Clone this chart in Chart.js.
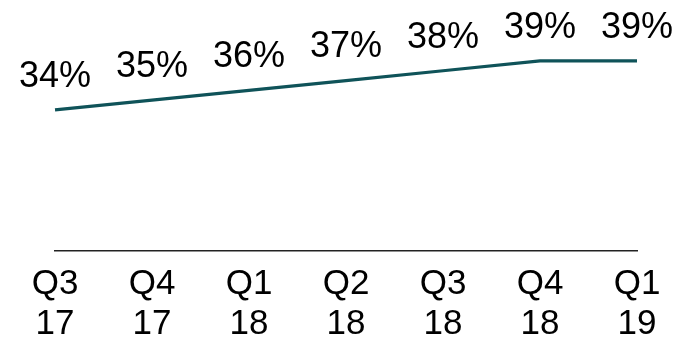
<!doctype html>
<html>

<head>
  <script src="https://cdn.jsdelivr.net/npm/chart.js@4"></script>
  <style>
    html, body { margin: 0; padding: 0; background: #fff; }
    #wrap { width: 679px; height: 339px; }
  </style>
</head>

<body>
  <div id="wrap">
    <canvas id="canvas"></canvas>
  </div>
  <script>
    const quarters = [['Q3', '17'], ['Q4', '17'], ['Q1', '18'], ['Q2', '18'], ['Q3', '18'], ['Q4', '18'], ['Q1', '19']];
    const share = [34, 35, 36, 37, 38, 39, 39];

    const FONT = '"Liberation Sans", Arial, sans-serif';

    // percent labels above each point
    const valueLabels = {
      id: 'valueLabels',
      afterDatasetsDraw(chart) {
        const ctx = chart.ctx;
        const meta = chart.getDatasetMeta(0);
        ctx.save();
        ctx.font = '36px ' + FONT;
        ctx.fillStyle = '#000';
        ctx.textAlign = 'center';
        ctx.textBaseline = 'middle';
        meta.data.forEach((pt, i) => {
          ctx.fillText(share[i] + '%', pt.x, pt.y - 33);
        });
        ctx.restore();
      }
    };

    new Chart(document.getElementById('canvas').getContext('2d'), {
      type: 'line',
      data: {
        labels: quarters,
        datasets: [{
          data: share,
          borderColor: '#0f5359',
          borderWidth: 3.2,
          pointRadius: 0,
          tension: 0,
          fill: false
        }]
      },
      plugins: [valueLabels],
      options: {
        responsive: true,
        maintainAspectRatio: false,
        animation: false,
        layout: {
          padding: { top: 10, left: 55, right: 42, bottom: 0 }
        },
        plugins: {
          legend: { display: false },
          tooltip: { enabled: false }
        },
        scales: {
          x: {
            offset: false,
            grid: { display: false, drawTicks: false },
            border: { display: true, color: '#222', width: 1.5 },
            ticks: {
              color: '#000',
              padding: 13,
              maxRotation: 0,
              autoSkip: false,
              font: { family: FONT, size: 35, lineHeight: 1.14 }
            },
            afterFit(scale) {
              scale.height = 88;
            }
          },
          y: {
            display: false,
            min: 19.6,
            max: 44.2
          }
        }
      }
    });
  </script>
</body>

</html>
